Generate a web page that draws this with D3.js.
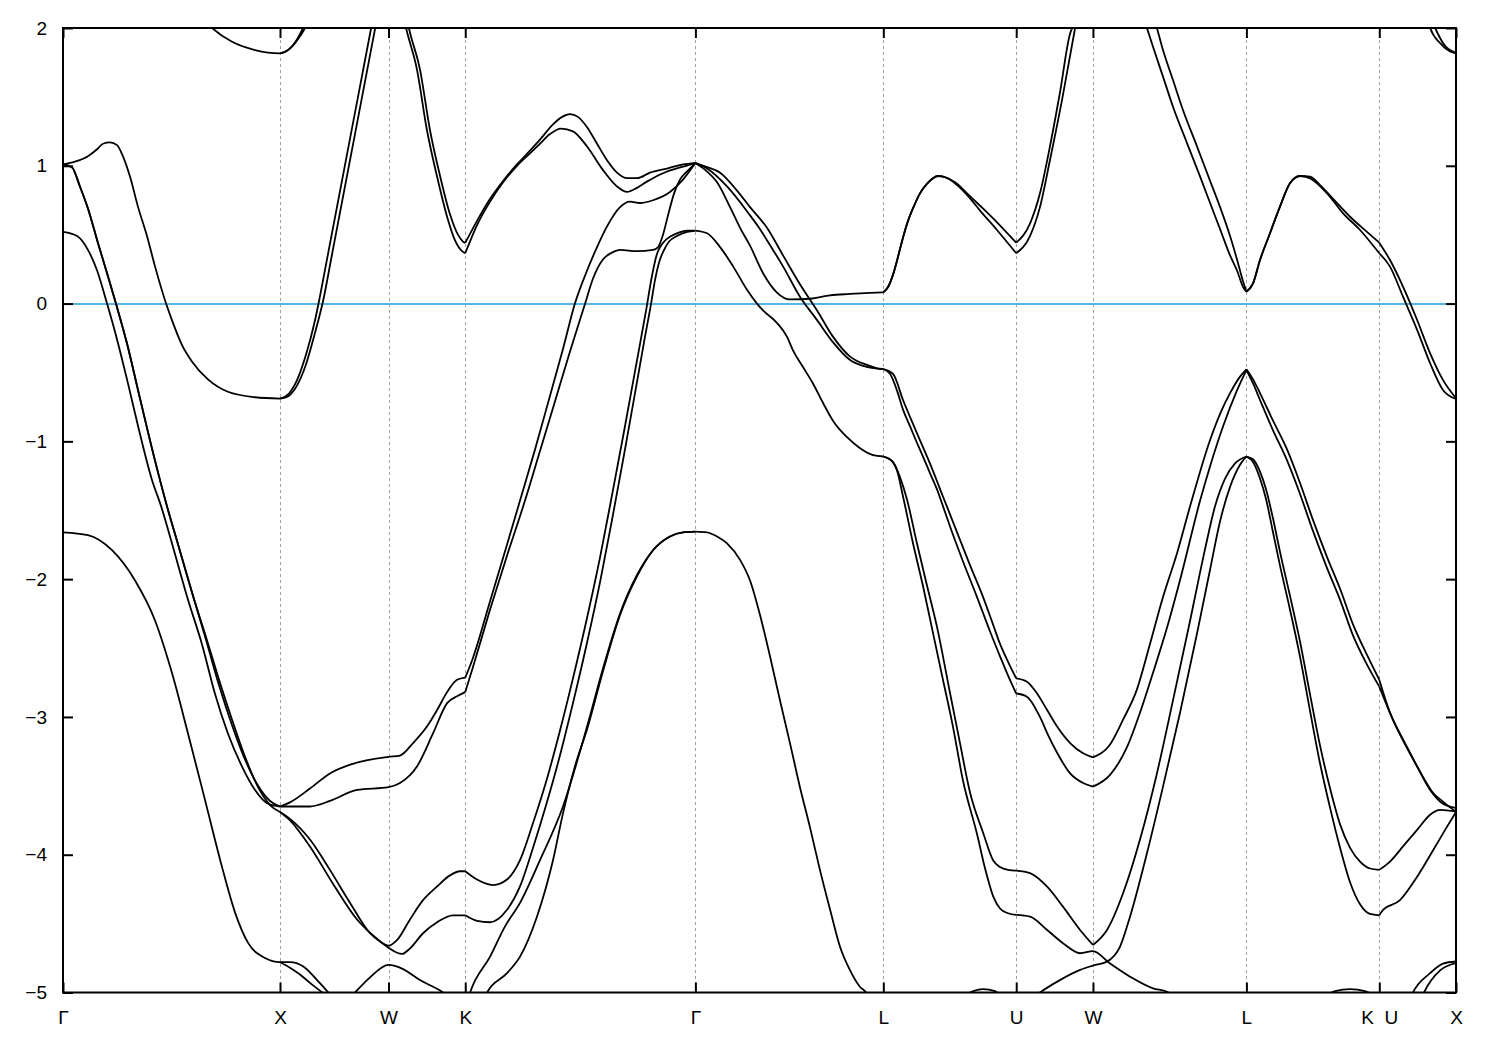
<!DOCTYPE html>
<html>
<head>
<meta charset="utf-8">
<script src="https://cdn.jsdelivr.net/npm/d3@7"></script>
<style>
  body { margin: 0; background: #ffffff; }
  svg { display: block; }
</style>
</head>
<body>
<svg id="chart" width="1500" height="1050"></svg>
<script>
// ---------- data ----------
const kPoints = [0, 1.0, 1.5, 1.8536, 2.9142, 3.7802, 4.3926, 4.7462, 5.4533, 6.0657, 6.4192];
const kLabels = ["Γ", "X", "W", "K", "Γ", "L", "U", "W", "L", "K U", "X"];
const yTicks = [2, 1, 0, -1, -2, -3, -4, -5];
const fermiLevel = 0;

const bandA = [[0,-1.66],[0.115,-1.68],[0.226,-1.79],[0.332,-2.01],[0.424,-2.30],[0.502,-2.68],[0.576,-3.12],[0.654,-3.60],[0.733,-4.09],[0.793,-4.42],[0.853,-4.64],[0.931,-4.75],[1.0,-4.78],[1.046,-4.78],[1.106,-4.81],[1.171,-4.91],[1.217,-4.99],[1.253,-5.05]];
const bandA2 = [[1.0,-4.78],[1.046,-4.82],[1.092,-4.87],[1.138,-4.93],[1.194,-5.0],[1.230,-5.05]];
const bandWlow = [[1.300,-5.08],[1.346,-5.0],[1.415,-4.89],[1.5,-4.80],[1.567,-4.83],[1.645,-4.91],[1.751,-5.0],[1.797,-5.06]];
const bandB = [[0,0.52],[0.065,0.49],[0.115,0.39],[0.157,0.24],[0.203,0.0],[0.249,-0.26],[0.295,-0.55],[0.346,-0.89],[0.410,-1.28],[0.452,-1.47],[0.502,-1.74],[0.576,-2.15],[0.640,-2.47],[0.700,-2.83],[0.760,-3.12],[0.825,-3.36],[0.885,-3.53],[0.945,-3.63],[1.0,-3.65]];
const bandC = [[0,1.01],[0.041,0.99],[0.078,0.85],[0.115,0.69],[0.161,0.44],[0.203,0.22],[0.244,0.0],[0.295,-0.29],[0.346,-0.63],[0.424,-1.14],[0.479,-1.47],[0.525,-1.72],[0.599,-2.12],[0.659,-2.44],[0.719,-2.77],[0.779,-3.06],[0.839,-3.31],[0.899,-3.50],[0.954,-3.61],[1.0,-3.65]];
const bandC2 = [[0,1.01],[0.041,0.99],[0.078,0.85],[0.115,0.69],[0.161,0.44],[0.203,0.22],[0.244,0.0],[0.295,-0.29],[0.346,-0.63],[0.424,-1.14],[0.479,-1.47],[0.525,-1.72],[0.599,-2.12],[0.659,-2.42],[0.719,-2.73],[0.779,-3.02],[0.839,-3.29],[0.899,-3.51],[0.954,-3.64],[1.0,-3.69]];
const bandD = [[0,1.01],[0.055,1.03],[0.115,1.07],[0.157,1.12],[0.184,1.16],[0.217,1.17],[0.249,1.15],[0.276,1.07],[0.309,0.92],[0.346,0.70],[0.387,0.49],[0.424,0.27],[0.475,0.0],[0.502,-0.12],[0.548,-0.30],[0.594,-0.42],[0.668,-0.55],[0.760,-0.64],[0.885,-0.68],[1.0,-0.69]];
const bandDxwL = [[1.0,-0.69],[1.04,-0.655],[1.08,-0.55],[1.12,-0.37],[1.16,-0.13],[1.18,0.02],[1.22,0.35],[1.26,0.68],[1.30,1.01],[1.34,1.34],[1.38,1.67],[1.42,2.0],[1.44,2.16]];
const bandDxwR = [[1.0,-0.69],[1.04,-0.67],[1.08,-0.59],[1.12,-0.44],[1.16,-0.22],[1.20,0.03],[1.24,0.36],[1.28,0.69],[1.32,1.02],[1.36,1.35],[1.40,1.68],[1.44,2.01],[1.46,2.17]];
const bandE = [[0.654,2.05],[0.687,2.0],[0.779,1.90],[0.885,1.84],[1.0,1.816],[1.046,1.85],[1.092,1.94],[1.115,2.0],[1.129,2.05]];
const bandE2 = [[1.0,1.816],[1.037,1.84],[1.083,1.93],[1.106,2.0],[1.120,2.05]];
const bandWKouter = [[1.567,2.1],[1.581,2.0],[1.631,1.70],[1.677,1.26],[1.724,0.92],[1.770,0.63],[1.806,0.46],[1.839,0.38],[1.8536,0.365]];
const bandWKinner = [[1.581,2.1],[1.594,2.0],[1.645,1.70],[1.691,1.26],[1.737,0.93],[1.783,0.65],[1.820,0.50],[1.843,0.45],[1.8536,0.44]];
const bandKGup = [[1.8536,0.44],[1.908,0.60],[1.968,0.76],[2.028,0.89],[2.092,1.01],[2.152,1.11],[2.198,1.19],[2.258,1.30],[2.300,1.355],[2.336,1.375],[2.373,1.355],[2.415,1.28],[2.461,1.16],[2.507,1.04],[2.553,0.95],[2.599,0.91],[2.645,0.91],[2.705,0.95],[2.783,0.98],[2.857,1.01],[2.9142,1.02]];
const bandKGlow = [[1.8536,0.365],[1.908,0.57],[1.968,0.74],[2.028,0.88],[2.092,1.00],[2.152,1.09],[2.198,1.16],[2.244,1.23],[2.295,1.27],[2.350,1.25],[2.415,1.14],[2.488,0.97],[2.553,0.85],[2.599,0.81],[2.645,0.84],[2.691,0.885],[2.765,0.946],[2.857,0.994],[2.9142,1.02]];
const bandXKup = [[1.0,-3.65],[1.046,-3.62],[1.138,-3.52],[1.230,-3.41],[1.336,-3.34],[1.5,-3.29],[1.553,-3.28],[1.613,-3.19],[1.677,-3.07],[1.724,-2.95],[1.770,-2.82],[1.816,-2.73],[1.8536,-2.715]];
const bandKGm1 = [[1.8536,-2.715],[1.885,-2.59],[1.968,-2.16],[2.046,-1.75],[2.106,-1.43],[2.175,-1.06],[2.244,-0.67],[2.304,-0.33],[2.359,0.0],[2.415,0.24],[2.461,0.41],[2.507,0.56],[2.567,0.70],[2.613,0.74],[2.659,0.73],[2.719,0.75],[2.797,0.81],[2.857,0.90],[2.9142,1.02]];
const bandXKmid = [[1.0,-3.65],[1.046,-3.65],[1.138,-3.65],[1.230,-3.61],[1.355,-3.53],[1.5,-3.51],[1.553,-3.48],[1.631,-3.36],[1.705,-3.12],[1.770,-2.90],[1.816,-2.85],[1.8536,-2.82]];
const bandKGm2 = [[1.8536,-2.82],[1.889,-2.64],[1.968,-2.22],[2.046,-1.83],[2.129,-1.43],[2.198,-1.07],[2.267,-0.71],[2.336,-0.35],[2.406,0.0],[2.442,0.18],[2.488,0.32],[2.530,0.37],[2.567,0.39],[2.645,0.38],[2.719,0.39],[2.742,0.41],[2.765,0.50],[2.788,0.64],[2.816,0.80],[2.843,0.90],[2.876,0.96],[2.9142,1.02]];
const bandXKlow1 = [[1.0,-3.69],[1.046,-3.74],[1.138,-3.89],[1.230,-4.11],[1.323,-4.35],[1.415,-4.57],[1.461,-4.63],[1.5,-4.66],[1.539,-4.62],[1.599,-4.47],[1.659,-4.33],[1.724,-4.23],[1.783,-4.15],[1.829,-4.12],[1.8536,-4.12]];
const bandXKlow2 = [[1.0,-3.69],[1.046,-3.75],[1.138,-3.94],[1.244,-4.21],[1.355,-4.47],[1.447,-4.61],[1.5,-4.675],[1.562,-4.72],[1.599,-4.68],[1.659,-4.57],[1.724,-4.49],[1.797,-4.44],[1.8536,-4.44]];
const bandKGlow1 = [[1.8536,-4.12],[1.908,-4.18],[1.982,-4.22],[2.046,-4.18],[2.106,-4.04],[2.166,-3.77],[2.230,-3.45],[2.290,-3.10],[2.350,-2.72],[2.415,-2.28],[2.475,-1.84],[2.530,-1.39],[2.585,-0.93],[2.636,-0.49],[2.687,-0.05],[2.714,0.20],[2.737,0.36],[2.760,0.43],[2.783,0.47],[2.829,0.51],[2.876,0.53],[2.9142,0.53]];
const bandKGlow2 = [[1.8536,-4.44],[1.908,-4.48],[1.968,-4.49],[2.046,-4.40],[2.106,-4.23],[2.166,-3.95],[2.230,-3.62],[2.290,-3.28],[2.350,-2.90],[2.415,-2.46],[2.475,-2.02],[2.530,-1.57],[2.585,-1.10],[2.636,-0.65],[2.682,-0.24],[2.710,0.0],[2.728,0.17],[2.747,0.30],[2.770,0.39],[2.793,0.45],[2.829,0.49],[2.876,0.52],[2.9142,0.53]];
const bandKGbot1 = [[1.866,-5.05],[1.876,-5.0],[1.968,-4.74],[2.037,-4.52],[2.106,-4.35],[2.198,-4.04],[2.304,-3.65],[2.415,-3.07],[2.488,-2.65],[2.567,-2.25],[2.645,-1.97],[2.719,-1.79],[2.797,-1.69],[2.857,-1.66],[2.9142,-1.655]];
const bandKGbot2 = [[1.940,-5.05],[1.954,-5.0],[2.046,-4.86],[2.106,-4.74],[2.184,-4.45],[2.258,-4.04],[2.304,-3.70],[2.359,-3.36],[2.415,-3.09],[2.488,-2.67],[2.567,-2.26],[2.645,-1.98],[2.719,-1.79],[2.797,-1.69],[2.857,-1.66],[2.9142,-1.655]];
const bandGLa = [[2.9142,1.02],[2.968,0.99],[3.028,0.95],[3.106,0.82],[3.166,0.70],[3.244,0.55],[3.318,0.35],[3.396,0.14],[3.475,-0.05],[3.548,-0.24],[3.627,-0.385],[3.705,-0.445],[3.751,-0.47],[3.7802,-0.475]];
const bandGLb = [[2.9142,1.02],[2.968,0.98],[3.060,0.85],[3.166,0.64],[3.212,0.54],[3.244,0.46],[3.318,0.27],[3.396,0.05],[3.475,-0.12],[3.548,-0.28],[3.627,-0.41],[3.705,-0.46],[3.7802,-0.475]];
const bandGLc = [[2.9142,1.02],[2.959,0.97],[3.014,0.88],[3.074,0.70],[3.120,0.55],[3.166,0.42],[3.226,0.22],[3.290,0.08],[3.350,0.03],[3.442,0.035],[3.535,0.06],[3.627,0.07],[3.719,0.078],[3.7802,0.082]];
const bandGLd = [[2.9142,0.53],[2.968,0.51],[3.028,0.41],[3.088,0.27],[3.152,0.10],[3.198,0.0],[3.226,-0.05],[3.290,-0.14],[3.336,-0.24],[3.364,-0.34],[3.410,-0.46],[3.456,-0.58],[3.502,-0.72],[3.548,-0.85],[3.613,-0.97],[3.673,-1.05],[3.733,-1.10],[3.7802,-1.11]];
const bandGLe = [[2.9142,-1.655],[2.968,-1.66],[3.014,-1.69],[3.060,-1.74],[3.120,-1.86],[3.166,-2.01],[3.212,-2.26],[3.258,-2.56],[3.304,-2.88],[3.350,-3.19],[3.396,-3.51],[3.442,-3.80],[3.488,-4.11],[3.535,-4.40],[3.581,-4.67],[3.627,-4.84],[3.673,-4.96],[3.701,-5.0],[3.719,-5.05]];
const bandLUtUp = [[3.7802,0.082],[3.802,0.12],[3.825,0.21],[3.848,0.34],[3.871,0.48],[3.894,0.60],[3.922,0.71],[3.949,0.80],[3.982,0.87],[4.009,0.91],[4.032,0.926],[4.060,0.92],[4.111,0.88],[4.166,0.80],[4.226,0.71],[4.304,0.59],[4.3926,0.442]];
const bandLUtLow = [[3.7802,0.082],[3.802,0.12],[3.825,0.21],[3.848,0.34],[3.871,0.48],[3.894,0.60],[3.922,0.71],[3.949,0.80],[3.982,0.87],[4.009,0.91],[4.032,0.926],[4.069,0.915],[4.120,0.86],[4.171,0.78],[4.226,0.675],[4.304,0.534],[4.3926,0.365]];
const bandUWtUp = [[4.3926,0.442],[4.456,0.58],[4.502,0.80],[4.548,1.14],[4.594,1.53],[4.641,1.96],[4.650,2.0],[4.664,2.12]];
const bandUWtLow = [[4.3926,0.365],[4.456,0.49],[4.502,0.70],[4.548,1.04],[4.604,1.48],[4.664,2.0],[4.673,2.08]];
const bandLUmHi = [[3.7802,-0.475],[3.825,-0.51],[3.871,-0.70],[3.935,-0.94],[3.995,-1.16],[4.055,-1.40],[4.120,-1.66],[4.180,-1.90],[4.240,-2.13],[4.286,-2.33],[4.318,-2.47],[4.355,-2.60],[4.3926,-2.72]];
const bandLUmLo = [[3.7802,-0.475],[3.811,-0.51],[3.843,-0.63],[3.871,-0.77],[3.903,-0.89],[3.935,-1.01],[3.963,-1.11],[3.995,-1.23],[4.028,-1.35],[4.055,-1.47],[4.088,-1.62],[4.147,-1.87],[4.212,-2.13],[4.272,-2.38],[4.318,-2.56],[4.355,-2.70],[4.3926,-2.83]];
const bandUWmHi = [[4.3926,-2.72],[4.442,-2.744],[4.488,-2.828],[4.535,-2.95],[4.581,-3.07],[4.641,-3.19],[4.701,-3.264],[4.7462,-3.293]];
const bandUWmLo = [[4.3926,-2.83],[4.442,-2.853],[4.502,-3.00],[4.539,-3.13],[4.581,-3.26],[4.641,-3.41],[4.701,-3.48],[4.7462,-3.506]];
const bandWLmHi = [[4.7462,-3.293],[4.825,-3.20],[4.885,-3.02],[4.949,-2.80],[5.009,-2.47],[5.069,-2.13],[5.134,-1.81],[5.194,-1.47],[5.286,-0.99],[5.332,-0.80],[5.378,-0.65],[5.424,-0.53],[5.4533,-0.477]];
const bandWLmLo = [[4.7462,-3.506],[4.825,-3.42],[4.903,-3.22],[4.963,-2.97],[5.023,-2.68],[5.088,-2.35],[5.147,-2.01],[5.240,-1.43],[5.286,-1.18],[5.346,-0.89],[5.410,-0.63],[5.4533,-0.482]];
const bandLKm1 = [[5.4533,-0.477],[5.484,-0.55],[5.516,-0.65],[5.576,-0.85],[5.641,-1.06],[5.700,-1.30],[5.760,-1.57],[5.825,-1.84],[5.885,-2.07],[5.945,-2.33],[6.009,-2.55],[6.0657,-2.73]];
const bandLKm2 = [[5.4533,-0.482],[5.484,-0.58],[5.516,-0.70],[5.576,-0.92],[5.641,-1.14],[5.700,-1.38],[5.760,-1.65],[5.825,-1.92],[5.885,-2.15],[5.945,-2.41],[6.009,-2.62],[6.0657,-2.78]];
const bandUXm1 = [[6.0657,-2.73],[6.115,-2.97],[6.175,-3.17],[6.240,-3.36],[6.300,-3.53],[6.359,-3.63],[6.4192,-3.66]];
const bandUXm2 = [[6.0657,-2.78],[6.129,-3.02],[6.194,-3.22],[6.258,-3.41],[6.313,-3.55],[6.359,-3.615],[6.4192,-3.69]];
const bandLUlUp = [[3.7802,-1.11],[3.797,-1.12],[3.825,-1.15],[3.857,-1.26],[3.889,-1.42],[3.935,-1.74],[3.982,-2.05],[4.028,-2.35],[4.088,-2.83],[4.131,-3.17],[4.180,-3.55],[4.240,-3.84],[4.286,-4.04],[4.318,-4.09],[4.355,-4.11],[4.3926,-4.115]];
const bandLUlLow = [[3.7802,-1.11],[3.811,-1.13],[3.843,-1.21],[3.871,-1.40],[3.917,-1.74],[3.963,-2.05],[4.009,-2.39],[4.055,-2.73],[4.101,-3.07],[4.147,-3.46],[4.212,-3.85],[4.249,-4.10],[4.286,-4.30],[4.318,-4.39],[4.355,-4.425],[4.3926,-4.437]];
const bandUWlUp = [[4.3926,-4.115],[4.456,-4.134],[4.535,-4.232],[4.608,-4.377],[4.687,-4.546],[4.7462,-4.655]];
const bandWLa = [[4.7462,-4.655],[4.811,-4.546],[4.885,-4.28],[4.963,-3.89],[5.041,-3.41],[5.115,-2.88],[5.194,-2.30],[5.263,-1.78],[5.309,-1.47],[5.355,-1.27],[5.401,-1.16],[5.4533,-1.11]];
const bandUWlLow = [[4.3926,-4.437],[4.456,-4.449],[4.535,-4.546],[4.608,-4.642],[4.687,-4.715],[4.7462,-4.70],[4.825,-4.79],[4.917,-4.885],[5.023,-4.97],[5.088,-4.995],[5.124,-5.05]];
const bandWLb = [[4.460,-5.05],[4.502,-5.0],[4.594,-4.91],[4.687,-4.836],[4.7462,-4.805],[4.811,-4.776],[4.871,-4.667],[4.917,-4.45],[4.995,-3.99],[5.069,-3.506],[5.147,-2.973],[5.226,-2.393],[5.286,-1.93],[5.332,-1.58],[5.378,-1.33],[5.424,-1.17],[5.4533,-1.11]];
const bandLKu1 = [[5.4533,0.086],[5.484,0.147],[5.516,0.316],[5.562,0.51],[5.608,0.703],[5.654,0.873],[5.700,0.926],[5.747,0.921],[5.793,0.86],[5.853,0.76],[5.931,0.63],[6.009,0.52],[6.0657,0.442]];
const bandLKu2 = [[5.4533,0.086],[5.484,0.147],[5.516,0.316],[5.562,0.51],[5.608,0.703],[5.654,0.873],[5.700,0.926],[5.747,0.909],[5.825,0.80],[5.899,0.655],[5.977,0.534],[6.0657,0.365]];
const bandUXu1 = [[6.0657,0.442],[6.115,0.316],[6.175,0.123],[6.240,-0.119],[6.300,-0.361],[6.359,-0.554],[6.4192,-0.687]];
const bandUXu2 = [[6.0657,0.365],[6.115,0.268],[6.175,0.05],[6.240,-0.191],[6.300,-0.433],[6.359,-0.627],[6.4192,-0.692]];
const bandWLt1 = [[4.975,2.1],[4.995,2.0],[5.023,1.864],[5.069,1.647],[5.115,1.429],[5.180,1.163],[5.240,0.921],[5.286,0.73],[5.332,0.54],[5.378,0.35],[5.410,0.24],[5.438,0.12],[5.4533,0.086]];
const bandWLt2 = [[5.023,2.1],[5.041,2.0],[5.069,1.84],[5.115,1.622],[5.161,1.405],[5.226,1.139],[5.286,0.89],[5.332,0.70],[5.378,0.49],[5.410,0.32],[5.438,0.16],[5.4533,0.086]];
const bandLKl1 = [[5.4533,-1.111],[5.484,-1.13],[5.516,-1.22],[5.544,-1.35],[5.576,-1.56],[5.608,-1.80],[5.654,-2.12],[5.700,-2.45],[5.747,-2.84],[5.793,-3.21],[5.839,-3.52],[5.885,-3.78],[5.931,-3.95],[5.977,-4.05],[6.023,-4.10],[6.0657,-4.11]];
const bandLKl2 = [[5.4533,-1.111],[5.484,-1.15],[5.516,-1.27],[5.544,-1.42],[5.576,-1.66],[5.608,-1.90],[5.654,-2.22],[5.700,-2.56],[5.747,-2.96],[5.793,-3.34],[5.839,-3.66],[5.885,-3.95],[5.931,-4.20],[5.977,-4.36],[6.023,-4.43],[6.0657,-4.44]];
const bandUXl1 = [[6.0657,-4.11],[6.115,-4.05],[6.175,-3.94],[6.240,-3.82],[6.300,-3.71],[6.346,-3.675],[6.4192,-3.687]];
const bandUXl2 = [[6.0657,-4.44],[6.078,-4.41],[6.161,-4.33],[6.240,-4.16],[6.313,-3.97],[6.369,-3.82],[6.4192,-3.69]];
const bandBump1 = [[4.134,-5.05],[4.180,-5.0],[4.240,-4.975],[4.295,-4.99],[4.332,-5.05]];
const bandBump2 = [[5.793,-5.05],[5.862,-4.99],[5.931,-4.975],[6.0,-4.99],[6.0657,-5.05]];
const bandUXb1 = [[6.207,-5.05],[6.221,-5.0],[6.300,-4.86],[6.359,-4.79],[6.4192,-4.775]];
const bandUXb2 = [[6.258,-5.05],[6.272,-5.0],[6.346,-4.84],[6.4192,-4.787]];
const bandUXt1 = [[6.290,2.05],[6.300,2.0],[6.346,1.89],[6.392,1.83],[6.4192,1.816]];
const bandUXt2 = [[6.309,2.05],[6.323,2.0],[6.369,1.87],[6.4192,1.82]];

const bands = [bandA, bandA2, bandWlow, bandB, bandC, bandC2, bandD, bandDxwL, bandDxwR, bandE, bandE2,
  bandWKouter, bandWKinner, bandKGup, bandKGlow, bandXKup, bandKGm1, bandXKmid, bandKGm2,
  bandXKlow1, bandXKlow2, bandKGlow1, bandKGlow2, bandKGbot1, bandKGbot2,
  bandGLa, bandGLb, bandGLc, bandGLd, bandGLe,
  bandLUtUp, bandLUtLow, bandUWtUp, bandUWtLow, bandLUmHi, bandLUmLo, bandUWmHi, bandUWmLo,
  bandWLmHi, bandWLmLo, bandLKm1, bandLKm2, bandUXm1, bandUXm2,
  bandLUlUp, bandLUlLow, bandUWlUp, bandWLa, bandUWlLow, bandWLb,
  bandLKu1, bandLKu2, bandUXu1, bandUXu2, bandWLt1, bandWLt2,
  bandLKl1, bandLKl2, bandUXl1, bandUXl2, bandBump1, bandBump2, bandUXb1, bandUXb2, bandUXt1, bandUXt2];

(function draw() {
  const mLeft = 63, mRight = 1456, mTop = 28, mBottom = 992.5;
  const svg = d3.select("#chart");
  const x = d3.scaleLinear().domain([kPoints[0], kPoints[kPoints.length - 1]]).range([mLeft, mRight]);
  const y = d3.scaleLinear().domain([-5, 2]).range([mBottom, mTop]);

  svg.append("rect").attr("width", 1500).attr("height", 1050).attr("fill", "#ffffff");

  svg.append("defs").append("clipPath").attr("id", "plotclip")
    .append("rect").attr("x", mLeft).attr("y", mTop).attr("width", mRight - mLeft).attr("height", mBottom - mTop);

  // vertical dashed lines at high-symmetry points
  svg.append("g").selectAll("line")
    .data(kPoints.slice(1, -1))
    .join("line")
    .attr("x1", d => Math.round(x(d)) + 0.5).attr("x2", d => Math.round(x(d)) + 0.5)
    .attr("y1", mTop).attr("y2", mBottom)
    .attr("stroke", "#a0a0a0").attr("stroke-width", 1)
    .attr("stroke-dasharray", "3,3");

  // Fermi level
  svg.append("line")
    .attr("x1", mLeft).attr("x2", mRight)
    .attr("y1", Math.round(y(fermiLevel))).attr("y2", Math.round(y(fermiLevel)))
    .attr("stroke", "#56b4e9").attr("stroke-width", 2);

  // bands
  const line = d3.line().x(d => x(d[0])).y(d => y(d[1])).curve(d3.curveMonotoneX);
  svg.append("g").attr("clip-path", "url(#plotclip)")
    .selectAll("path")
    .data(bands)
    .join("path")
    .attr("d", line)
    .attr("fill", "none")
    .attr("stroke", "#000000")
    .attr("stroke-width", 1.8)
    .attr("stroke-linejoin", "round");

  // frame
  svg.append("rect")
    .attr("x", mLeft).attr("y", mTop).attr("width", mRight - mLeft).attr("height", mBottom - mTop)
    .attr("fill", "none").attr("stroke", "#000000").attr("stroke-width", 2);

  const tickLen = 10;
  const yAxisL = d3.axisLeft(y).tickValues(yTicks).tickSizeInner(-tickLen).tickSizeOuter(0).tickPadding(16).tickFormat(d3.format("d"));
  const gyL = svg.append("g").attr("transform", `translate(${mLeft},0)`).call(yAxisL);
  const yAxisR = d3.axisRight(y).tickValues(yTicks).tickSizeInner(-tickLen).tickSizeOuter(0).tickFormat("");
  const gyR = svg.append("g").attr("transform", `translate(${mRight},0)`).call(yAxisR);

  const xAxisB = d3.axisBottom(x).tickValues(kPoints).tickSizeInner(-tickLen).tickSizeOuter(0).tickPadding(18)
    .tickFormat((d, i) => kLabels[i]);
  const gxB = svg.append("g").attr("transform", `translate(0,${mBottom})`).call(xAxisB);
  const xAxisT = d3.axisTop(x).tickValues(kPoints).tickSizeInner(-tickLen).tickSizeOuter(0).tickFormat("");
  const gxT = svg.append("g").attr("transform", `translate(0,${mTop})`).call(xAxisT);

  [gyL, gyR, gxB, gxT].forEach(g => {
    g.select(".domain").remove();
    g.selectAll(".tick line").attr("stroke", "#000000").attr("stroke-width", 2);
    g.selectAll("text").attr("fill", "#000000")
      .style("font-family", "'Liberation Sans', Arial, sans-serif")
      .style("font-size", "19px");
  });
  gxB.selectAll("text").style("white-space", "pre")
    .text((d, i) => kLabels[i] === "K U" ? "K\u00a0\u00a0U" : kLabels[i]);
})();
</script>
</body>
</html>
